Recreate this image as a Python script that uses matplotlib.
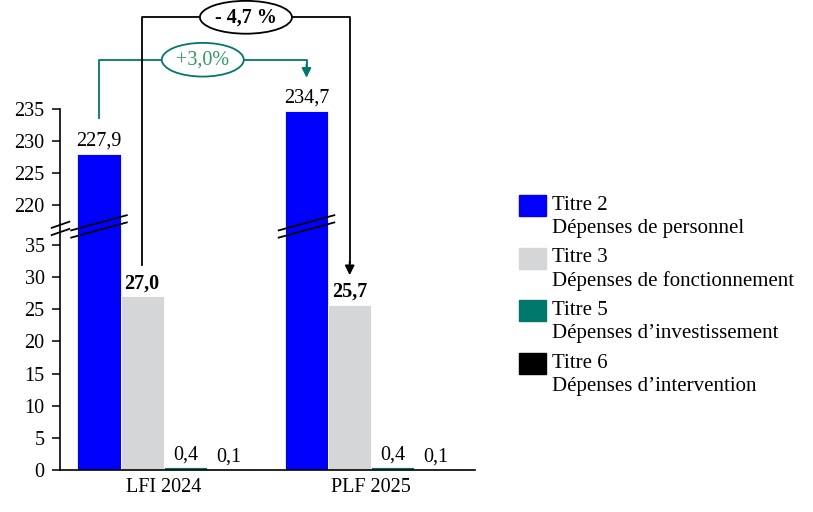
import numpy as np
import matplotlib.pyplot as plt
from matplotlib.patches import Rectangle
from matplotlib.scale import FuncScale

# --- données (Md€) ---
annees = ['LFI 2024', 'PLF 2025']
titres = ['Titre 2', 'Titre 3', 'Titre 5', 'Titre 6']
libelles = ['Dépenses de personnel', 'Dépenses de fonctionnement',
            'Dépenses d\u2019investissement', 'Dépenses d\u2019intervention']
t2 = [227.9, 234.7]
t3 = [27.0, 25.7]
t5 = [0.4, 0.4]
t6 = [0.1, 0.1]
evol_t2 = '+3,0%'
evol_t3 = '- 4,7 %'

couleurs = ['#0000FF', '#D5D6D8', '#00786C', '#000000']
vert_txt = '#2E9A62'

plt.rcParams['font.family'] = ['Liberation Serif', 'DejaVu Serif']
plt.rcParams['font.size'] = 14.5

# axe coupé : 0-37.6 tel quel, puis saut jusqu'à 216.4
cut = 37.6
shift = 178.8

def fwd(y):
    y = np.asarray(y, dtype=float)
    return np.where(y <= cut, y, np.where(y >= cut + shift, y - shift, cut))

def inv(m):
    m = np.asarray(m, dtype=float)
    return np.where(m <= cut, m, m + shift)

fig = plt.figure(figsize=(8.13, 5.12), dpi=100)
W, H = 813, 512
ax = fig.add_axes([60 / W, 1 - 470 / H, 415 / W, (470 - 108.6) / H])
ax.set_yscale(FuncScale(ax.yaxis, (fwd, inv)))

x = np.arange(len(annees))
w = 0.208
series = [t2, t3, t5, t6]
for i, vals in enumerate(series):
    pos = x + (i - 1.5) * w
    ax.bar(pos, vals, w, color=couleurs[i], edgecolor='white', linewidth=0.6)
    for p, v in zip(pos, vals):
        ax.text(p, v + 0.5, f'{v:.1f}'.replace('.', ','), ha='center', va='bottom',
                fontweight='bold' if i == 1 else 'normal')

ax.set_xlim(-0.5, 1.5)
ax.set_ylim(0, 235)
ax.set_yticks([0, 5, 10, 15, 20, 25, 30, 35, 220, 225, 230, 235])
ax.set_xticks(x)
ax.set_xticklabels(annees)
ax.tick_params(axis='x', length=0, pad=6)
ax.tick_params(axis='y', length=6, width=1.1, pad=5)
for s in ['top', 'right']:
    ax.spines[s].set_visible(False)
ax.spines['left'].set_linewidth(1.2)
ax.spines['bottom'].set_linewidth(1.2)

# marques de coupure
yb = cut / fwd(235)
trans = ax.get_xaxis_transform()
ax.plot([-0.54, -0.455], [yb + 0.001, yb + 0.018], transform=trans,
        color='black', lw=1.3, clip_on=False, zorder=5)
ax.plot([-0.54, -0.455], [yb - 0.019, yb - 0.002], transform=trans,
        color='black', lw=1.3, clip_on=False, zorder=5)
for xc in x - 1.5 * w:
    xa, xb = xc - w / 2 - 0.03, xc + w / 2 + 0.03
    for off in (0.0, -0.02):
        ax.plot([xa, xb], [yb + off - 0.006, yb + off + 0.036], transform=trans,
                color='black', lw=1.3, clip_on=False, zorder=5)

# évolution Titre 2
xa2, xb2 = x[0] - 1.5 * w, x[1] - 1.5 * w
y_h2 = 242.6
ax.plot([xa2, xa2, xb2, xb2], [t2[0] + 5.6, y_h2, y_h2, t2[1] + 7.0],
        color=couleurs[2], lw=1.3, clip_on=False)
ax.annotate('', xy=(xb2, t2[1] + 5.1), xytext=(xb2, t2[1] + 7.2),
            arrowprops=dict(arrowstyle='-|>', color=couleurs[2], lw=1.3,
                            mutation_scale=14, shrinkA=0, shrinkB=0),
            annotation_clip=False)
ax.text((xa2 + xb2) / 2, y_h2, evol_t2, ha='center', va='center', color=vert_txt,
        bbox=dict(boxstyle='ellipse,pad=0.12', fc='white', ec=couleurs[2], lw=1.3))

# évolution Titre 3
xa3, xb3 = x[0] - 0.5 * w, x[1] - 0.5 * w
y_h3 = 249.2
ax.plot([xa3, xa3, xb3, xb3], [t3[0] + 4.9, y_h3, y_h3, t3[1] + 6.5],
        color='black', lw=1.3, clip_on=False)
ax.annotate('', xy=(xb3, t3[1] + 4.6), xytext=(xb3, t3[1] + 6.7),
            arrowprops=dict(arrowstyle='-|>', color='black', lw=1.3,
                            mutation_scale=14, shrinkA=0, shrinkB=0),
            annotation_clip=False)
ax.text((xa3 + xb3) / 2, y_h3, evol_t3, ha='center', va='center', fontweight='bold',
        bbox=dict(boxstyle='ellipse,pad=0.08', fc='white', ec='black', lw=1.3))

# légende
y0 = 205.5
for i, (t, l) in enumerate(zip(titres, libelles)):
    yc = y0 + i * 52.5
    fig.add_artist(Rectangle((519 / W, 1 - (yc + 10.5) / H), 27 / W, 21 / H,
                             transform=fig.transFigure, color=couleurs[i]))
    fig.text(552 / W, 1 - yc / H, t, va='center', ha='left', fontsize=15)
    fig.text(552 / W, 1 - (yc + 23) / H, l, va='center', ha='left', fontsize=15)

fig.savefig('out.png', dpi=100)
